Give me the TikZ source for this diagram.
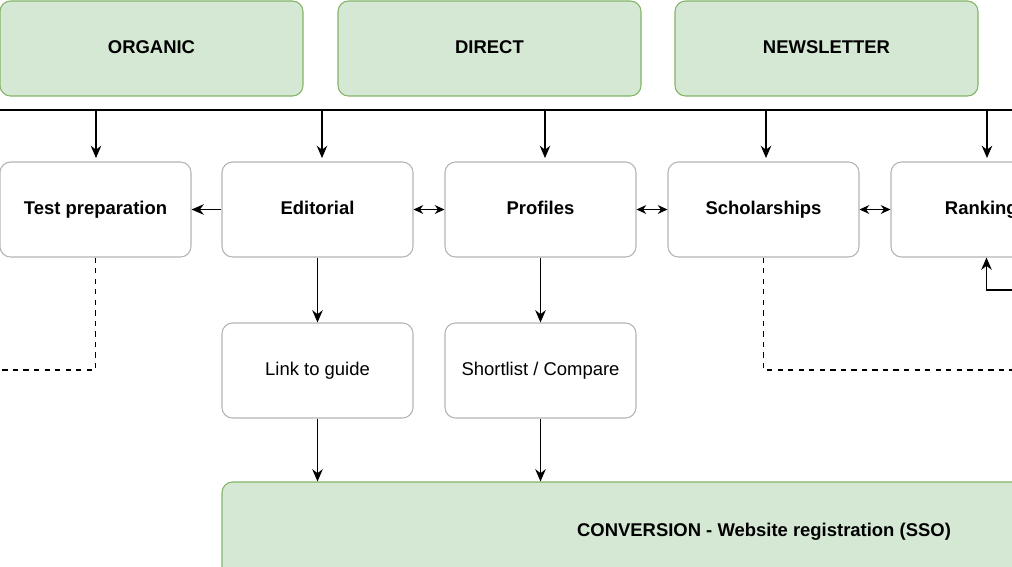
\documentclass[tikz,border=0pt]{standalone}
\usepackage{fontspec}
\setmainfont{Liberation Sans}
\usetikzlibrary{arrows.meta}
\definecolor{chanfill}{HTML}{D5E8D4}
\definecolor{chanline}{HTML}{82B366}
\definecolor{pageline}{HTML}{B3B3B3}
\tikzset{
  channel/.style={draw=chanline,fill=chanfill,rounded corners=6pt,line width=0.6pt,
    minimum width=303*0.02cm,minimum height=95*0.02cm,inner sep=0pt,
    text height=7.5pt,text depth=2pt,
    font=\fontsize{10.5}{12}\selectfont\bfseries},
  page/.style={draw=pageline,rounded corners=6pt,line width=0.6pt,
    minimum width=191*0.02cm,minimum height=95*0.02cm,inner sep=0pt,
    text height=7.5pt,text depth=2pt,
    font=\fontsize{10.5}{12}\selectfont\bfseries},
  nextpage/.style={page,font=\fontsize{10.5}{12}\selectfont},
  flow/.style={-{Stealth[length=7pt,width=6pt]},line width=0.8pt},
  both/.style={{Stealth[length=5.5pt,width=5pt]}-{Stealth[length=5.5pt,width=5pt]},line width=0.8pt},
  link/.style={dashed,line width=0.6pt}
}
\begin{document}
\begin{tikzpicture}[x=0.02cm,y=-0.02cm]
  \useasboundingbox (0,0) rectangle (1012,566);
  \clip (0,0) rectangle (1012,566);
  % traffic channels
  \node[channel] (organic) at (151.5,48.5) {ORGANIC};
  \node[channel] (direct) at (489.5,48.5) {DIRECT};
  \node[channel] (news) at (826.5,48.5) {NEWSLETTER};
  \coordinate (busl) at (0,110);
  \coordinate (busr) at (1012,110);
  \draw[line width=0.8pt] (busl) -- (busr);
  % pages
  \node[page] (test) at (95.5,209.5) {Test preparation};
  \node[page] (edit) at (317.5,209.5) {Editorial};
  \node[page] (prof) at (540.5,209.5) {Profiles};
  \node[page] (schol) at (763.5,209.5) {Scholarships};
  \node[page] (rank) at (986.5,209.5) {Rankings};
  \foreach \n/\x in {test/96,edit/322,prof/545,schol/766,rank/987}
    \draw[flow] (\x,110) -- (\x,158);
  \draw[flow] (edit) -- (test);
  \draw[both] (edit) -- (prof);
  \draw[both] (prof) -- (schol);
  \draw[both] (schol) -- (rank);
  % next steps
  \node[nextpage] (guide) at (317.5,370.5) {Link to guide};
  \node[nextpage] (short) at (540.5,370.5) {Shortlist / Compare};
  \draw[flow] (edit) -- (guide);
  \draw[flow] (prof) -- (short);
  \node[channel,minimum width=1084*0.02cm,minimum height=100*0.02cm] (conv) at (764,532)
    {CONVERSION - Website registration (SSO)};
  \draw[flow] (guide.south) -- (guide.south |- conv.north);
  \draw[flow] (short.south) -- (short.south |- conv.north);
  % dashed links
  \coordinate (tl) at (0,370);
  \coordinate (sr) at (1012,370);
  \draw[link] (test.south) |- (tl);
  \draw[link] (schol.south) |- (sr);
  \coordinate (rr) at (1012,290);
  \draw[flow] (rr) -| (rank.south);
\end{tikzpicture}
\end{document}
